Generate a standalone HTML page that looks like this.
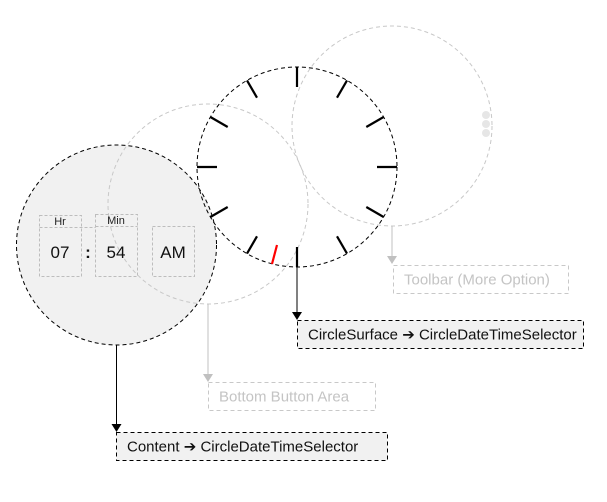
<!DOCTYPE html>
<html><head><style>
html,body{margin:0;padding:0;background:#fff;}
svg{display:block;}
text{font-family:"Liberation Sans","DejaVu Sans",sans-serif;}
</style></head><body>
<svg width="607" height="502" viewBox="0 0 607 502" xmlns="http://www.w3.org/2000/svg">
<!-- content circle -->
<circle cx="116.5" cy="245" r="100" fill="#f1f1f1" stroke="none"/>
<!-- gray circles -->
<circle cx="208" cy="204" r="100" fill="none" stroke="#c8c8c8" stroke-dasharray="4,3"/>
<circle cx="392" cy="126" r="100" fill="none" stroke="#c8c8c8" stroke-dasharray="4,3"/>
<circle cx="486" cy="115" r="4" fill="#e6e6e6"/>
<circle cx="486" cy="124" r="4" fill="#e6e6e6"/>
<circle cx="486" cy="133" r="4" fill="#e6e6e6"/>
<circle cx="116.5" cy="245" r="100" fill="none" stroke="#000" stroke-dasharray="4,3"/>
<!-- clock -->
<circle cx="297" cy="167" r="100" fill="none" stroke="#000" stroke-dasharray="4,3"/>
<g stroke="#000" stroke-width="2.2">
<line x1="297" y1="67" x2="297" y2="87"/>
<line x1="347" y1="80.4" x2="337" y2="97.7"/>
<line x1="383.6" y1="117" x2="366.3" y2="127"/>
<line x1="397" y1="167" x2="377" y2="167"/>
<line x1="383.6" y1="217" x2="366.3" y2="207"/>
<line x1="347" y1="253.6" x2="337" y2="236.3"/>
<line x1="297" y1="267" x2="297" y2="247"/>
<line x1="247" y1="253.6" x2="257" y2="236.3"/>
<line x1="210.4" y1="217" x2="227.7" y2="207"/>
<line x1="197" y1="167" x2="217" y2="167"/>
<line x1="210.4" y1="117" x2="227.7" y2="127"/>
<line x1="247" y1="80.4" x2="257" y2="97.7"/>
</g>
<line x1="272" y1="264" x2="277" y2="245" stroke="#f00" stroke-width="2.2"/>
<!-- time boxes -->
<g fill="none" stroke="#bdbdbd" stroke-dasharray="3,2">
<rect x="39.5" y="215.5" width="42" height="61"/>
<line x1="39.5" y1="227.5" x2="95.5" y2="227.5"/>
<rect x="95.5" y="214.5" width="42" height="62"/>
<line x1="95.5" y1="226.5" x2="137.5" y2="226.5"/>
<rect x="152.5" y="226.5" width="42" height="50"/>
</g>
<g font-size="11" fill="#222" text-anchor="middle">
<text x="60" y="225">Hr</text>
<text x="116" y="224">Min</text>
</g>
<g font-size="17" fill="#111" text-anchor="middle">
<text x="60" y="258">07</text>
<text x="88" y="258" font-weight="bold">:</text>
<text x="116" y="258">54</text>
<text x="173" y="258">AM</text>
</g>
<!-- connectors -->
<line x1="116.5" y1="345" x2="116.5" y2="426" stroke="#000"/>
<polygon points="111.5,424 121.5,424 116.5,432" fill="#000"/>
<line x1="297" y1="267" x2="297" y2="314" stroke="#000"/>
<polygon points="292,312 302,312 297,320" fill="#000"/>
<line x1="392" y1="226" x2="392" y2="258" stroke="#c0c0c0"/>
<polygon points="387,256 397,256 392,264" fill="#c0c0c0"/>
<line x1="208" y1="304" x2="208" y2="376" stroke="#c0c0c0"/>
<polygon points="203,374 213,374 208,382" fill="#c0c0c0"/>
<!-- label boxes -->
<rect x="116.5" y="432.5" width="271" height="28" fill="#f1f1f1" stroke="#000" stroke-dasharray="4,3"/>
<text x="127" y="451.5" font-size="15" fill="#111">Content <tspan font-weight="bold">➔</tspan> CircleDateTimeSelector</text>
<rect x="297.5" y="320.5" width="286" height="28" fill="#f1f1f1" stroke="#000" stroke-dasharray="4,3"/>
<text x="308" y="339.5" font-size="15" fill="#111">CircleSurface <tspan font-weight="bold">➔</tspan> CircleDateTimeSelector</text>
<rect x="393.5" y="265.5" width="175" height="28" fill="#fff" stroke="#c8c8c8" stroke-dasharray="4,3"/>
<text x="404" y="284.5" font-size="15" fill="#c4c4c4">Toolbar (More Option)</text>
<rect x="208.5" y="382.5" width="167" height="28" fill="#fff" stroke="#c8c8c8" stroke-dasharray="4,3"/>
<text x="219" y="401.5" font-size="15" fill="#c4c4c4">Bottom Button Area</text>
</svg>
</body></html>
